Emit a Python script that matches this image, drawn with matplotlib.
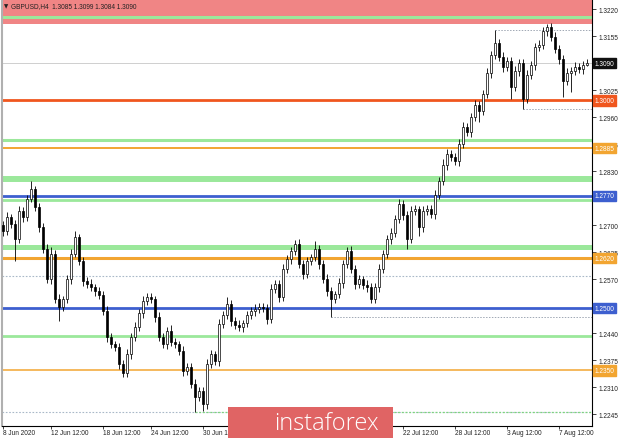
import matplotlib.pyplot as plt
import numpy as np
from matplotlib.patches import Rectangle
import matplotlib.transforms as mtransforms

plt.rcParams['font.family'] = ['Liberation Sans', 'DejaVu Sans']

# GBPUSD H4 closes, oldest first
closes = [
    1.2686, 1.2719, 1.2702, 1.2666, 1.2734, 1.2719, 1.2763, 1.2787, 1.2743, 1.2695,
    1.2642, 1.2570, 1.2630, 1.2522, 1.2503, 1.2522, 1.2570, 1.2630, 1.2671, 1.2613,
    1.2565, 1.2558, 1.2551, 1.2541, 1.2532, 1.2493, 1.2430, 1.2414, 1.2406, 1.2365,
    1.2344, 1.2390, 1.2430, 1.2455, 1.2488, 1.2517, 1.2527, 1.2522, 1.2479, 1.2430,
    1.2414, 1.2445, 1.2418, 1.2414, 1.2397, 1.2349, 1.2358, 1.2317, 1.2286, 1.2300,
    1.2269, 1.2365, 1.2390, 1.2373, 1.2462, 1.2483, 1.2510, 1.2469, 1.2459, 1.2455,
    1.2464, 1.2483, 1.2493, 1.2498, 1.2503, 1.2500, 1.2474, 1.2546, 1.2558, 1.2527,
    1.2594, 1.2618, 1.2637, 1.2654, 1.2606, 1.2582, 1.2613, 1.2623, 1.2642, 1.2606,
    1.2570, 1.2541, 1.2522, 1.2534, 1.2560, 1.2606, 1.2637, 1.2594, 1.2558, 1.2570,
    1.2556, 1.2551, 1.2522, 1.2551, 1.2594, 1.2630, 1.2666, 1.2681, 1.2714, 1.2751,
    1.2724, 1.2666, 1.2734, 1.2739, 1.2695, 1.2734, 1.2739, 1.2726, 1.2772, 1.2806,
    1.2844, 1.2871, 1.2864, 1.2854, 1.2895, 1.2936, 1.2924, 1.2960, 1.2989, 1.2974,
    1.3015, 1.3066, 1.3109, 1.3138, 1.3104, 1.3080, 1.3095, 1.3032, 1.3071, 1.3090,
    1.3003, 1.3061, 1.3085, 1.3128, 1.3133, 1.3167, 1.3177, 1.3153, 1.3124, 1.3100,
    1.3047, 1.3066, 1.3071, 1.3080, 1.3076, 1.3085, 1.3090,
]
first_open = 1.2700

# wick lengths in pips above / below the body
upper_wick = [
    10, 12, 8, 10, 12, 9, 10, 19, 8, 10,
    9, 12, 17, 10, 12, 8, 10, 12, 15, 8,
    10, 9, 12, 8, 10, 9, 12, 10, 8, 9,
    10, 12, 9, 11, 10, 12, 9, 10, 8, 12,
    10, 9, 14, 10, 8, 12, 9, 10, 12, 10,
    9, 12, 10, 8, 12, 10, 17, 9, 10, 12,
    8, 10, 9, 12, 10, 9, 11, 12, 10, 9,
    12, 10, 9, 10, 12, 9, 10, 8, 19, 10,
    9, 12, 10, 8, 12, 9, 10, 12, 9, 10,
    8, 12, 10, 9, 12, 10, 9, 12, 10, 12,
    9, 10, 12, 9, 8, 12, 10, 9, 12, 10,
    14, 12, 9, 10, 11, 12, 10, 9, 12, 10,
    9, 12, 10, 31, 10, 12, 9, 10, 12, 9,
    10, 12, 9, 10, 12, 10, 8, 9, 12, 10,
    9, 12, 10, 12, 9, 10, 9,
]
lower_wick = [
    12, 9, 10, 53, 10, 12, 9, 8, 10, 12,
    9, 10, 12, 10, 33, 9, 10, 12, 8, 10,
    12, 9, 10, 12, 9, 10, 12, 9, 10, 12,
    10, 9, 12, 10, 9, 12, 10, 9, 12, 10,
    9, 12, 10, 9, 10, 12, 9, 10, 36, 10,
    17, 12, 9, 10, 12, 9, 10, 12, 10, 9,
    12, 10, 9, 12, 10, 9, 12, 10, 9, 12,
    10, 9, 12, 10, 9, 12, 10, 9, 10, 12,
    9, 12, 43, 10, 9, 12, 10, 9, 12, 10,
    9, 12, 10, 9, 12, 10, 9, 12, 10, 9,
    12, 24, 10, 9, 21, 12, 10, 9, 12, 10,
    9, 12, 10, 9, 12, 10, 9, 12, 10, 26,
    10, 9, 12, 10, 9, 12, 10, 29, 9, 12,
    24, 10, 9, 12, 10, 9, 12, 10, 9, 12,
    39, 10, 46, 9, 10, 12, 1,
]

# date labels visible outside the watermark
date_ticks = [0, 12, 25, 37, 50, 100, 113, 126, 139]
date_labels = ['8 Jun 2020', '12 Jun 12:00', '18 Jun 12:00', '24 Jun 12:00',
               '30 Jun 12:00', '22 Jul 12:00', '28 Jul 12:00', '3 Aug 12:00',
               '7 Aug 12:00']
# grid prices not hidden behind a level box
price_ticks = [1.2245, 1.2310, 1.2375, 1.2440, 1.2570, 1.2635, 1.2700,
               1.2830, 1.2895, 1.2960, 1.3025, 1.3155, 1.3220]

red_zone = (1.3184, 1.3260)
green_levels = [1.3201, 1.2905, 1.2811, 1.2760, 1.2647, 1.2433]
green_widths = [2.2, 2.2, 4.3, 2.0, 3.6, 2.0]
orange_levels = [1.2885, 1.2620, 1.2350]
orange_widths = [1.4, 2.2, 1.1]
blue_levels = [1.2770, 1.2500]
key_level = 1.3000
mid_level = 1.2577

closes = np.array(closes)
opens = np.r_[first_open, closes[:-1]]
highs = np.maximum(opens, closes) + np.array(upper_wick) / 10000
lows = np.minimum(opens, closes) - np.array(lower_wick) / 10000
idx = np.arange(len(closes))
n = len(closes)

fig = plt.figure(figsize=(6.2, 4.39), dpi=100)
ax = fig.add_axes([2 / 620, 12 / 439, 590 / 620, 427 / 439])
ax.set_xlim(-0.25, 147.25)
ax.set_ylim(1.22163, 1.32441)

# zones and levels
ax.axhspan(red_zone[0], red_zone[1], color='#f08585', lw=0, zorder=0)
for lv, w in zip(green_levels, green_widths):
    ax.axhline(lv, color='#9be89b', lw=w, zorder=1)
for lv, w in zip(orange_levels, orange_widths):
    ax.axhline(lv, color='#f2a531', lw=w, zorder=1)
for lv in blue_levels:
    ax.axhline(lv, color='#3d5fcf', lw=2.0, zorder=1)
ax.axhline(key_level, color='#f0561e', lw=2.0, zorder=1)
ax.axhline(closes[-1], color='#c8c8c8', lw=0.6, zorder=1)
ax.axhline(mid_level, color='#a9b8c8', lw=0.8, ls=(0, (1.5, 1.5)), zorder=1)
ax.axhline(lows[48], color='#a9b8c8', lw=0.8, ls=(0, (1.5, 1.5)), zorder=1)

# dotted extremes from the bar that made them
dot = dict(color='#a0a8b4', lw=0.7, ls=(0, (1.5, 1.5)), zorder=1)
ax.hlines(highs[123], 123, n + 1, **dot)
ax.hlines(lows[130], 130, n + 1, **dot)
ax.hlines(lows[82], 82, n + 1, **dot)
ax.hlines(lows[48], 48, n + 1, color='#7ed67e', lw=0.9, ls=(0, (1.5, 1.5)), zorder=1)

# candles
up = closes >= opens
ax.vlines(idx, lows, highs, color='black', lw=0.6, zorder=3)
ax.bar(idx[up], (closes - opens)[up], bottom=opens[up], width=0.6,
       color='white', edgecolor='black', lw=0.5, zorder=4)
ax.bar(idx[~up], (opens - closes)[~up], bottom=closes[~up], width=0.6,
       color='black', edgecolor='black', lw=0.5, zorder=4)

# axes styling (MT4 look)
ax.spines['top'].set_visible(False)
ax.spines['left'].set_color('#b0b0b0')
ax.spines['left'].set_linewidth(1.5)
ax.spines['right'].set_linewidth(0.8)
ax.spines['bottom'].set_linewidth(0.8)
ax.yaxis.tick_right()
ax.set_yticks(price_ticks)
ax.set_yticklabels([f'{p:.4f}' for p in price_ticks])
ax.tick_params(axis='y', labelsize=4.7, length=3, width=0.6, pad=2, colors='#222222')
ax.set_xticks(date_ticks)
ax.set_xticklabels(date_labels, ha='left')
ax.tick_params(axis='x', labelsize=4.7, length=2, width=0.6, pad=0.5, colors='#222222')

# right-side price boxes
trans = mtransforms.blended_transform_factory(ax.transAxes, ax.transData)
boxes = [(closes[-1], '#111111'), (key_level, '#f0561e'), (orange_levels[0], '#f2a531'),
         (blue_levels[0], '#3d5fcf'), (orange_levels[1], '#f2a531'),
         (blue_levels[1], '#3d5fcf'), (orange_levels[2], '#f2a531')]
for lv, c in boxes:
    ax.text(1.004, lv, f'{lv:.4f}', transform=trans, fontsize=4.7, color='white',
            va='center', ha='left', clip_on=False, zorder=6,
            bbox=dict(boxstyle='square,pad=0.25', fc=c, ec=c))

# header
fig.text(4 / 620, 1 - 7 / 439, '\u25bc', fontsize=4, color='#222222', va='center',
         family=['DejaVu Sans'])
fig.text(11 / 620, 1 - 7 / 439, 'GBPUSD,H4  1.3085 1.3099 1.3084 1.3090',
         fontsize=4.7, color='#222222', va='center')

# watermark banner
fig.patches.append(Rectangle((228 / 620, 0), 165 / 620, 31 / 439, transform=fig.transFigure,
                             facecolor='#e06464', edgecolor='none', zorder=10))
fig.text(326 / 620, 15 / 439, 'instaforex', fontsize=17, color='white', ha='center',
         va='center', family=['Open Sans', 'DejaVu Sans'], weight='light', zorder=11)

fig.savefig('out.png', dpi=100)
